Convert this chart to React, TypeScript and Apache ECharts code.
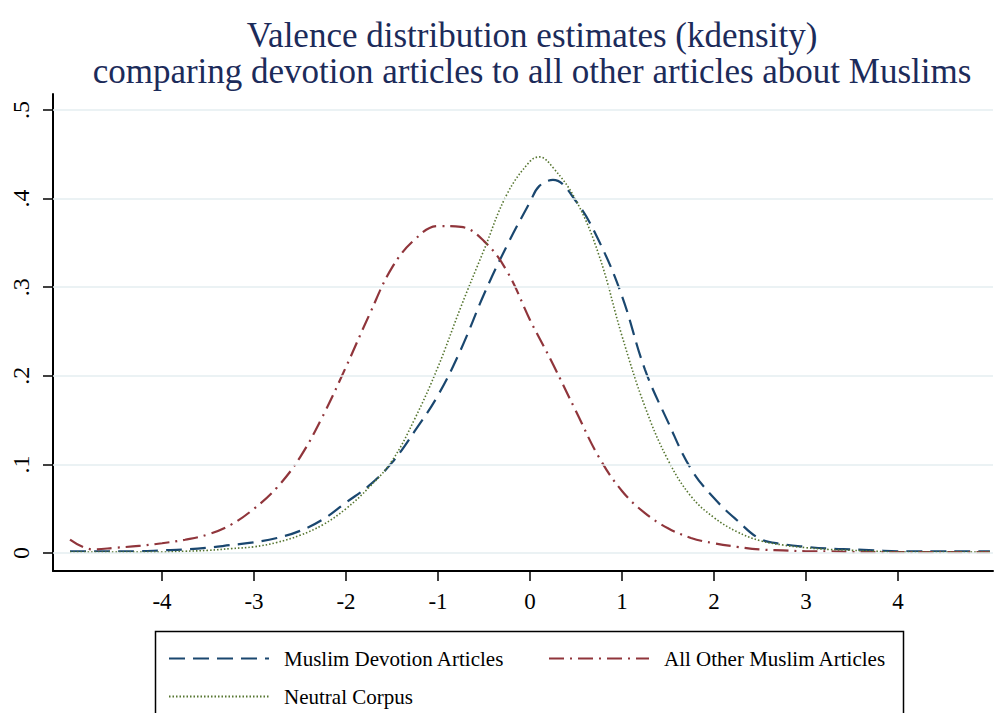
import React, { useEffect, useRef } from 'react';
import * as echarts from 'echarts';

const titleLines = [
  'Valence distribution estimates (kdensity)',
  'comparing devotion articles to all other articles about Muslims',
];

const seriesNames = ['Muslim Devotion Articles', 'All Other Muslim Articles', 'Neutral Corpus'];

const xValues = [
  -5, -4.75, -4.5, -4.25, -4, -3.75, -3.5, -3.25, -3, -2.75, -2.5, -2.25, -2, -1.75, -1.5, -1.25, -1, -0.75, -0.5, -0.25,
  0, 0.1, 0.25, 0.5, 0.75, 1, 1.25, 1.5, 1.75, 2, 2.25, 2.5, 2.75, 3, 3.25, 3.5, 3.75, 4, 4.25, 4.5, 4.75, 5,
];

const devotion = [
  0.002, 0.002, 0.002, 0.002, 0.003, 0.004, 0.006, 0.009, 0.012, 0.017, 0.025, 0.038, 0.057, 0.076, 0.102, 0.138, 0.178, 0.23, 0.292, 0.347,
  0.396, 0.414, 0.421, 0.397, 0.352, 0.29, 0.207, 0.148, 0.095, 0.062, 0.037, 0.016, 0.01, 0.007, 0.005, 0.004, 0.003, 0.002, 0.002, 0.002, 0.002, 0.002,
];

const otherMuslim = [
  0.015, 0.004, 0.006, 0.008, 0.011, 0.015, 0.021, 0.032, 0.05, 0.074, 0.108, 0.155, 0.21, 0.268, 0.322, 0.354, 0.369, 0.368, 0.352, 0.318,
  0.263, 0.243, 0.213, 0.16, 0.108, 0.07, 0.045, 0.028, 0.017, 0.011, 0.007, 0.004, 0.003, 0.002, 0.002, 0.001, 0.001, 0.001, 0.001, 0.001, 0.001, 0.001,
];

const neutral = [
  0.001, 0.001, 0.001, 0.001, 0.001, 0.002, 0.003, 0.005, 0.007, 0.012, 0.02, 0.032, 0.05, 0.074, 0.104, 0.152, 0.21, 0.278, 0.342, 0.405,
  0.442, 0.447, 0.435, 0.398, 0.336, 0.245, 0.165, 0.105, 0.064, 0.04, 0.024, 0.014, 0.009, 0.006, 0.004, 0.003, 0.002, 0.001, 0.001, 0.001, 0.001, 0.001,
];

const xTicks = [-4, -3, -2, -1, 0, 1, 2, 3, 4];
const yTicks = [0, 0.1, 0.2, 0.3, 0.4, 0.5];
const yTickLabels = ['0', '.1', '.2', '.3', '.4', '.5'];

const FONT = "'Liberation Serif', 'DejaVu Serif', serif";

export default function App() {
  const ref = useRef<HTMLDivElement>(null);

  useEffect(() => {
    if (!ref.current) return;
    const chart = echarts.init(ref.current, null, { renderer: 'svg' });

    const legendCommon = {
      orient: 'horizontal',
      padding: 0,
      itemWidth: 100,
      itemHeight: 14,
      selectedMode: false,
      itemStyle: { opacity: 0 },
      textStyle: { fontFamily: FONT, fontSize: 21, color: '#000', padding: [0, 0, 0, 10] },
    };

    const toPairs = (vals: number[]) => xValues.map((x, i) => [x, vals[i]]);

    const titleStyle = {
      x: 532,
      textAlign: 'center',
      textVerticalAlign: 'middle',
      fontFamily: FONT,
      fontSize: 35,
      fill: '#1c2b5a',
    };

    chart.setOption({
      animation: false,
      backgroundColor: '#fff',
      grid: { left: 53, right: 2, top: 94, bottom: 142 },
      xAxis: {
        type: 'value',
        min: -5.185,
        max: 5.033,
        axisLine: { show: true, onZero: false, lineStyle: { color: '#000', width: 2 } },
        axisTick: { show: true, length: 10, lineStyle: { color: '#000', width: 1.5 }, customValues: xTicks },
        axisLabel: { customValues: xTicks, fontFamily: FONT, fontSize: 23, color: '#000', margin: 19 },
        splitLine: { show: false },
      },
      yAxis: {
        type: 'value',
        min: -0.0203,
        max: 0.518,
        axisLine: { show: true, onZero: false, lineStyle: { color: '#000', width: 2 } },
        axisTick: { show: true, length: 10, lineStyle: { color: '#000', width: 1.5 }, customValues: yTicks },
        axisLabel: {
          customValues: yTicks,
          rotate: 90,
          fontFamily: FONT,
          fontSize: 24,
          color: '#000',
          margin: 20,
          formatter: (v: number) => {
            const i = Math.round(v * 10);
            return yTickLabels[i] ?? '';
          },
        },
        splitLine: { show: false },
      },
      legend: [
        { ...legendCommon, data: [seriesNames[0]], left: 168, top: 648 },
        { ...legendCommon, data: [seriesNames[1]], left: 548, top: 648 },
        { ...legendCommon, data: [seriesNames[2]], left: 168, top: 686 },
      ],
      graphic: [
        { type: 'text', silent: true, style: { ...titleStyle, text: titleLines[0], y: 35 } },
        { type: 'text', silent: true, style: { ...titleStyle, text: titleLines[1], y: 71 } },
        {
          type: 'rect',
          silent: true,
          shape: { x: 155.5, y: 631.5, width: 748, height: 100 },
          style: { fill: 'none', stroke: '#000', lineWidth: 1.5 },
        },
      ],
      series: [
        {
          type: 'line',
          name: 'gridlines',
          data: [[0, 0]],
          symbol: 'none',
          silent: true,
          z: 1,
          lineStyle: { width: 0, opacity: 0 },
          markLine: {
            silent: true,
            symbol: ['none', 'none'],
            label: { show: false },
            lineStyle: { color: '#e4eef1', width: 1.5, type: 'solid' },
            emphasis: { disabled: true },
            data: yTicks.map((v) => ({ yAxis: v })),
          },
        },
        {
          type: 'line',
          name: seriesNames[0],
          data: toPairs(devotion),
          symbol: 'none',
          smooth: 0.4,
          z: 3,
          color: '#1a476f',
          lineStyle: { color: '#1a476f', width: 2.2, type: [16, 8] },
        },
        {
          type: 'line',
          name: seriesNames[1],
          data: toPairs(otherMuslim),
          symbol: 'none',
          smooth: 0.4,
          z: 3,
          color: '#90353b',
          lineStyle: { color: '#90353b', width: 2.2, type: [15, 6, 2, 6] },
        },
        {
          type: 'line',
          name: seriesNames[2],
          data: toPairs(neutral),
          symbol: 'none',
          smooth: 0.4,
          z: 3,
          color: '#55752f',
          lineStyle: { color: '#55752f', width: 1.6, type: [1.5, 2] },
        },
      ],
    });

    return () => chart.dispose();
  }, []);

  return <div ref={ref} style={{ position: 'fixed', left: 0, top: 0, width: 995, height: 713 }} />;
}
